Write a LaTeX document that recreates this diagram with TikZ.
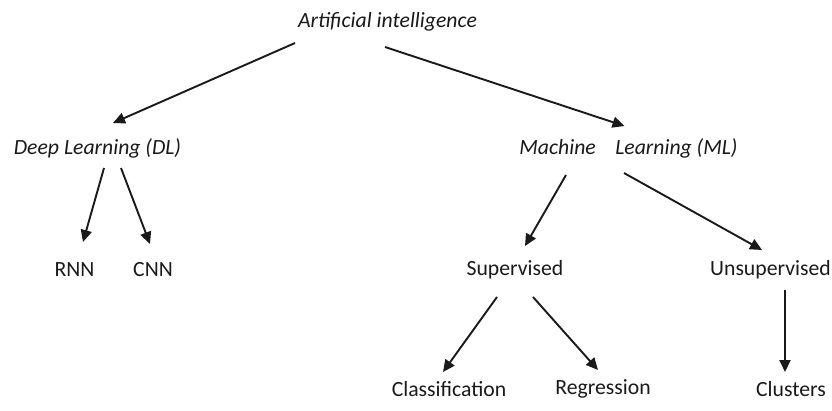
\documentclass[tikz,border=0pt]{standalone}
\usepackage{fontspec}
\setmainfont{Carlito}
\usetikzlibrary{arrows.meta}
\definecolor{ink}{HTML}{1A1A1A}
\begin{document}
\begin{tikzpicture}[x=1pt,y=-1pt,
  lbl/.style={font=\fontsize{21.7}{26}\selectfont, text=ink, inner sep=0pt},
  ilbl/.style={lbl, font=\fontsize{21.7}{26}\selectfont\itshape},
  arr/.style={draw=ink, line width=1.9pt, -{Triangle[length=12pt,width=11pt]}}]
\useasboundingbox[fill=white] (0,0) rectangle (832,410);

% labels
\node[ilbl] (ai) at (387.5,22) {Artificial intelligence};
\node[ilbl] (dl) at (97.5,148) {Deep Learning (DL)};
\node[ilbl] (ml) at (628.5,148) {Machine\hspace{0.9em}Learning (ML)};
\node[lbl] (rnn) at (74.5,270) {RNN};
\node[lbl] (cnn) at (153,270) {CNN};
\node[lbl] (sup) at (515,270) {Supervised};
\node[lbl] (unsup) at (770.5,270) {Unsupervised};
\node[lbl] (cls) at (449,389) {Classification};
\node[lbl] (reg) at (603,389) {Regression};
\node[lbl] (clu) at (791,389) {Clusters};

% connectors
\draw[arr] ([shift={(-92.5,21)}]ai.center) -- ([shift={(15.5,-25)}]dl.center);
\draw[arr] ([shift={(-2.5,25)}]ai.center) -- ([shift={(-4,-22)}]ml.center);
\draw[arr] ([shift={(6.5,20)}]dl.center) -- ([shift={(8.5,-28)}]rnn.center);
\draw[arr] ([shift={(23.5,20)}]dl.center) -- ([shift={(-3,-26)}]cnn.center);
\draw[arr] ([shift={(-62.5,27)}]ml.center) -- ([shift={(10,-24)}]sup.center);
\draw[arr] ([shift={(-4.5,25)}]ml.center) -- ([shift={(-8.5,-20)}]unsup.center);
\draw[arr] ([shift={(-18,27)}]sup.center) -- ([shift={(-6,-17)}]cls.center);
\draw[arr] ([shift={(18,27)}]sup.center) -- ([shift={(-5,-19)}]reg.center);
\draw[arr] ([shift={(14.5,20)}]unsup.center) -- ([shift={(-6,-17)}]clu.center);
\end{tikzpicture}
\end{document}
